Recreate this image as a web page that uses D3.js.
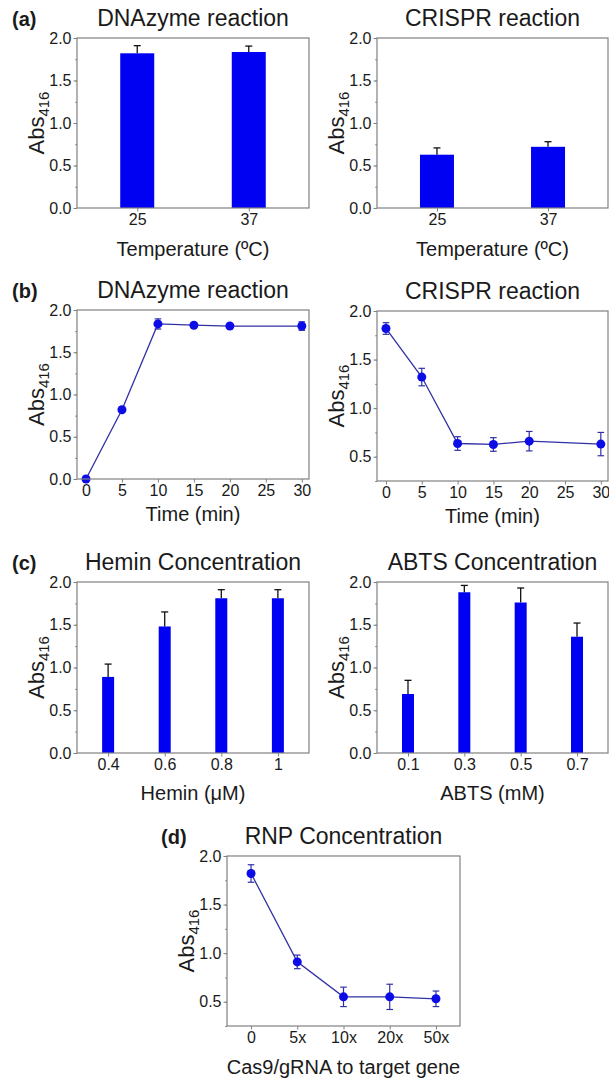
<!DOCTYPE html>
<html>
<head>
<meta charset="utf-8">
<script src="https://cdn.jsdelivr.net/npm/d3@7"></script>
<style>
  body { margin: 0; background: #fff; }
  svg { display: block; font-family: Arial, "Liberation Sans", sans-serif; }
</style>
</head>
<body>
<svg id="chart" width="609" height="1079"></svg>
<script>
// values
const tempCats = ["25", "37"]
const dnazymeTemp = [1.82, 1.835]
const dnazymeTempErr = [0.09, 0.07]
const crisprTemp = [0.627, 0.72]
const crisprTempErr = [0.08, 0.06]

const timeMin = [0, 5, 10, 15, 20, 30]
const timeTicks = [0, 5, 10, 15, 20, 25, 30]
const dnazymeTime = [0, 0.82, 1.835, 1.82, 1.81, 1.81]
const dnazymeTimeErr = [0, 0, 0.06, 0.02, 0.02, 0.05]
const crisprTime = [1.82, 1.32, 0.636, 0.626, 0.66, 0.63]
const crisprTimeErr = [0.06, 0.09, 0.07, 0.07, 0.1, 0.12]

const heminCats = ["0.4", "0.6", "0.8", "1"]
const hemin = [0.89, 1.48, 1.81, 1.81]
const heminErr = [0.15, 0.17, 0.1, 0.1]

const abtsCats = ["0.1", "0.3", "0.5", "0.7"]
const abts = [0.69, 1.88, 1.76, 1.36]
const abtsErr = [0.16, 0.08, 0.17, 0.16]

const rnpCats = ["0", "5x", "10x", "20x", "50x"]
const rnp = [1.82, 0.91, 0.55, 0.55, 0.53]
const rnpErr = [0.09, 0.07, 0.1, 0.13, 0.08]

const yTicksFull = [0, 0.5, 1.0, 1.5, 2.0]
const yTicksCut = [0.5, 1.0, 1.5, 2.0]

const svg = d3.select("#chart")
const frameColor = "#808080"
const textColor = "#1a1a1a"
const barColor = "#0000f2"
const lineColor = "#3030a6"
const dotColor = "#0c0ce6"

function panel(p) {
  let g = svg.append("g")
  let y = d3.scaleLinear().domain(p.yDomain).range([p.y1, p.y0])
  let x
  if (p.kind == "time") {
    x = d3.scaleLinear().domain([-1.25, 31]).range([p.x0, p.x1])
  } else {
    x = d3.scalePoint().domain(p.cats).range([p.x0, p.x1]).padding(p.pad)
  }

  // y axis, with minor ticks between the majors
  let minor = []
  for (let v = p.yDomain[0]; v <= p.yDomain[1] + 1e-9; v += 0.25) minor.push(v)
  g.append("g")
    .attr("transform", "translate(" + p.x0 + ",0)")
    .call(d3.axisLeft(y).tickValues(minor).tickSize(1.8).tickFormat(""))
    .call(a => a.select(".domain").remove())
    .call(a => a.selectAll("line").attr("stroke", frameColor))
  g.append("g")
    .attr("transform", "translate(" + p.x0 + ",0)")
    .call(d3.axisLeft(y).tickValues(p.yTicks).tickSize(3.5).tickPadding(2).tickFormat(d3.format(".1f")))
    .attr("font-size", 16).attr("font-family", null)
    .call(a => a.select(".domain").remove())
    .call(a => a.selectAll("line").attr("stroke", frameColor))
    .call(a => a.selectAll("text").attr("fill", textColor))

  let xAxis = p.kind == "time" ? d3.axisBottom(x).tickValues(timeTicks) : d3.axisBottom(x)
  g.append("g")
    .attr("transform", "translate(0," + p.y1 + ")")
    .call(xAxis.tickSize(3.5).tickPadding(2))
    .attr("font-size", 16).attr("font-family", null)
    .call(a => a.select(".domain").remove())
    .call(a => a.selectAll("line").attr("stroke", frameColor))
    .call(a => a.selectAll("text").attr("fill", textColor))

  // data
  if (p.kind == "bar") {
    g.selectAll("rect.bar")
      .data(p.values)
      .enter().append("rect")
      .attr("class", "bar")
      .attr("x", (d, i) => x(p.cats[i]) - p.barW / 2)
      .attr("width", p.barW)
      .attr("y", d => y(d))
      .attr("height", d => y(p.yDomain[0]) - y(d))
      .attr("fill", barColor)
    let eb = g.selectAll("g.err").data(p.values).enter().append("g")
    eb.append("line")
      .attr("x1", (d, i) => x(p.cats[i])).attr("x2", (d, i) => x(p.cats[i]))
      .attr("y1", d => y(d)).attr("y2", (d, i) => y(d + p.errs[i]))
      .attr("stroke", "#111").attr("stroke-width", 1.3)
    eb.append("line")
      .attr("x1", (d, i) => x(p.cats[i]) - 3.5).attr("x2", (d, i) => x(p.cats[i]) + 3.5)
      .attr("y1", (d, i) => y(d + p.errs[i])).attr("y2", (d, i) => y(d + p.errs[i]))
      .attr("stroke", "#111").attr("stroke-width", 1.3)
  } else {
    let xs = p.kind == "time" ? p.xs : p.cats
    let pts = p.values.map((v, i) => [x(xs[i]), y(v), p.errs[i], v])
    g.append("path")
      .attr("d", d3.line()(pts.map(d => [d[0], d[1]])))
      .attr("fill", "none")
      .attr("stroke", lineColor)
      .attr("stroke-width", 1.3)
    let eb = g.selectAll("g.err").data(pts.filter(d => d[2] > 0)).enter().append("g")
      .attr("stroke", lineColor).attr("stroke-width", 1.2)
    eb.append("line")
      .attr("x1", d => d[0]).attr("x2", d => d[0])
      .attr("y1", d => y(d[3] - d[2])).attr("y2", d => y(d[3] + d[2]))
    eb.append("line")
      .attr("x1", d => d[0] - 3.3).attr("x2", d => d[0] + 3.3)
      .attr("y1", d => y(d[3] - d[2])).attr("y2", d => y(d[3] - d[2]))
    eb.append("line")
      .attr("x1", d => d[0] - 3.3).attr("x2", d => d[0] + 3.3)
      .attr("y1", d => y(d[3] + d[2])).attr("y2", d => y(d[3] + d[2]))
    g.selectAll("circle")
      .data(pts)
      .enter().append("circle")
      .attr("cx", d => d[0]).attr("cy", d => d[1])
      .attr("r", 4.5)
      .attr("fill", dotColor)
  }

  // frame
  g.append("rect")
    .attr("x", p.x0).attr("y", p.y0)
    .attr("width", p.x1 - p.x0).attr("height", p.y1 - p.y0)
    .attr("fill", "none").attr("stroke", frameColor).attr("stroke-width", 1.2)

  // texts
  g.append("text")
    .attr("x", (p.x0 + p.x1) / 2).attr("y", p.y0 - 12)
    .attr("text-anchor", "middle").attr("font-size", 23).attr("fill", textColor)
    .text(p.title)
  if (p.letter) {
    g.append("text")
      .attr("x", p.letterX).attr("y", p.y0 - 12)
      .attr("font-size", 20).attr("font-weight", "bold").attr("fill", textColor)
      .text(p.letter)
  }
  g.append("text")
    .attr("x", (p.x0 + p.x1) / 2).attr("y", p.y1 + p.xlabOff)
    .attr("text-anchor", "middle").attr("font-size", 20).attr("fill", textColor)
    .text(p.xlabel)
  let yl = g.append("text")
    .attr("transform", "translate(" + (p.x0 - 33) + "," + ((p.y0 + p.y1) / 2) + ") rotate(-90)")
    .attr("text-anchor", "middle").attr("fill", textColor)
  yl.append("tspan").attr("font-size", 22).text("Abs")
  yl.append("tspan").attr("font-size", 15).attr("dy", 5).text("416")
}

panel({ kind: "bar", x0: 77, x1: 309, y0: 38, y1: 208, yDomain: [0, 2], yTicks: yTicksFull,
  cats: tempCats, pad: 0.54, barW: 34, values: dnazymeTemp, errs: dnazymeTempErr,
  title: "DNAzyme reaction", letter: "(a)", letterX: 12, xlabel: "Temperature (\u00baC)", xlabOff: 48 })
panel({ kind: "bar", x0: 377, x1: 608, y0: 38, y1: 208, yDomain: [0, 2], yTicks: yTicksFull,
  cats: tempCats, pad: 0.54, barW: 34, values: crisprTemp, errs: crisprTempErr,
  title: "CRISPR reaction", xlabel: "Temperature (\u00baC)", xlabOff: 48 })

panel({ kind: "time", x0: 77, x1: 309, y0: 310, y1: 479, yDomain: [0, 2], yTicks: yTicksFull,
  xs: timeMin, values: dnazymeTime, errs: dnazymeTimeErr,
  title: "DNAzyme reaction", letter: "(b)", letterX: 12, xlabel: "Time (min)", xlabOff: 42 })
panel({ kind: "time", x0: 377, x1: 608, y0: 311, y1: 481, yDomain: [0.25, 2], yTicks: yTicksCut,
  xs: timeMin, values: crisprTime, errs: crisprTimeErr,
  title: "CRISPR reaction", xlabel: "Time (min)", xlabOff: 42 })

panel({ kind: "bar", x0: 77, x1: 309, y0: 582, y1: 753, yDomain: [0, 2], yTicks: yTicksFull,
  cats: heminCats, pad: 0.55, barW: 12, values: hemin, errs: heminErr,
  title: "Hemin Concentration", letter: "(c)", letterX: 12, xlabel: "Hemin (\u03bcM)", xlabOff: 47 })
panel({ kind: "bar", x0: 377, x1: 608, y0: 582, y1: 753, yDomain: [0, 2], yTicks: yTicksFull,
  cats: abtsCats, pad: 0.55, barW: 12, values: abts, errs: abtsErr,
  title: "ABTS Concentration", xlabel: "ABTS (mM)", xlabOff: 47 })

panel({ kind: "cat", x0: 227, x1: 460, y0: 856, y1: 1026, yDomain: [0.25, 2], yTicks: yTicksCut,
  cats: rnpCats, pad: 0.52, values: rnp, errs: rnpErr,
  title: "RNP Concentration", letter: "(d)", letterX: 161, xlabel: "Cas9/gRNA to target gene", xlabOff: 48 })
</script>
</body>
</html>
